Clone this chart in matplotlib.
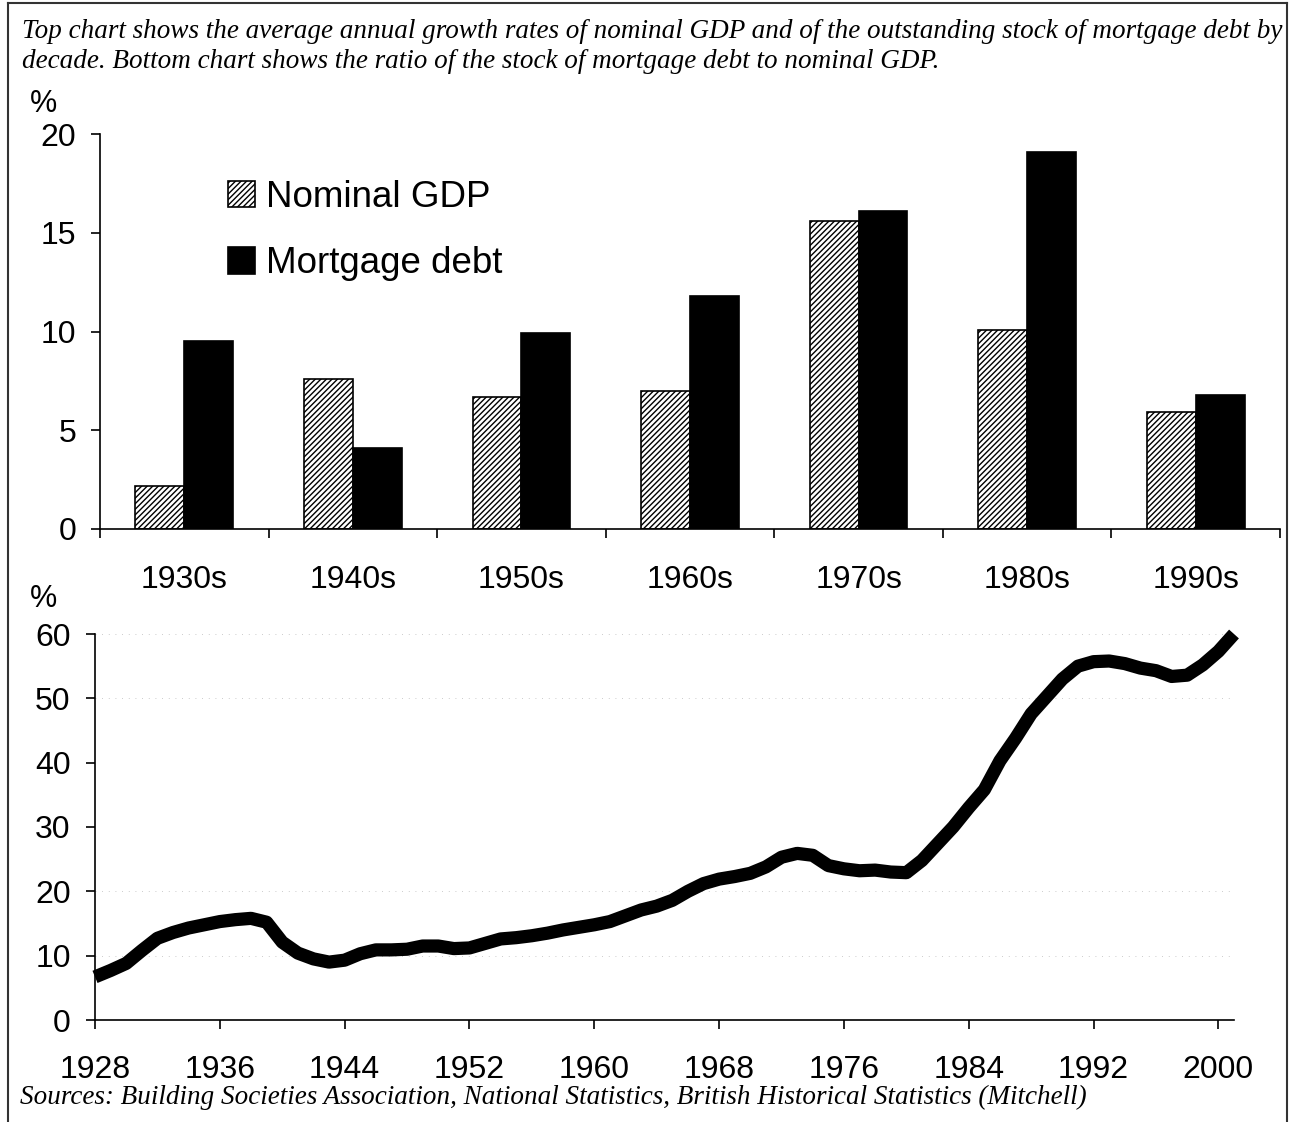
import numpy as np
import matplotlib
matplotlib.use("Agg")
import matplotlib.pyplot as plt
from matplotlib.lines import Line2D
from matplotlib.ticker import FixedLocator

# %%
decades = ["1930s", "1940s", "1950s", "1960s", "1970s", "1980s", "1990s"]
gdp_growth = [2.2, 7.6, 6.7, 7.0, 15.6, 10.1, 5.9]
mortgage_growth = [9.5, 4.1, 9.9, 11.8, 16.1, 19.1, 6.8]

years = list(range(1928, 2002))
debt_to_gdp = [6.7, 7.7, 8.8, 10.8, 12.7, 13.6, 14.3, 14.8, 15.3, 15.6,
               15.8, 15.2, 12.1, 10.4, 9.5, 9.0, 9.3, 10.3, 10.9, 10.9,
               11.0, 11.5, 11.5, 11.1, 11.2, 11.9, 12.6, 12.8, 13.1, 13.5,
               14.0, 14.4, 14.8, 15.3, 16.2, 17.1, 17.7, 18.6, 20.0, 21.2,
               21.9, 22.3, 22.8, 23.8, 25.3, 25.9, 25.6, 24.0, 23.5, 23.2,
               23.3, 23.0, 22.9, 24.8, 27.4, 30.0, 33.0, 35.8, 40.3, 43.8,
               47.6, 50.3, 53.0, 55.0, 55.7, 55.8, 55.4, 54.7, 54.3, 53.4,
               53.6, 55.2, 57.3, 60.0]
year_ticks = list(range(1928, 2001, 8))

title_txt = ("Top chart shows the average annual growth rates of nominal GDP and of the outstanding stock of mortgage debt by\n"
             "decade. Bottom chart shows the ratio of the stock of mortgage debt to nominal GDP.")
source_txt = "Sources: Building Societies Association, National Statistics, British Historical Statistics (Mitchell)"

# %%
plt.rcParams['font.family'] = ['Liberation Sans', 'DejaVu Sans']
plt.rcParams['hatch.linewidth'] = 1.0
W, H = 1292, 1122
fig = plt.figure(figsize=[W / 100, H / 100], dpi=100)

serif = dict(family=['Liberation Serif', 'DejaVu Serif'], style='italic', fontsize=19.5)
fig.text(22 / W, 1 - 19 / H, title_txt, ha='left', va='top', linespacing=1.25, **serif)
fig.text(20 / W, 1 - 1104 / H, source_txt, ha='left', va='baseline', **serif)

# page frame
for xs, ys in [([8, 8], [3, H]), ([8, 1287], [3, 3]), ([1287, 1287], [3, H])]:
    fig.add_artist(Line2D([x / W for x in xs], [1 - y / H for y in ys],
                          color='#333333', lw=1.5, transform=fig.transFigure))

# %% top chart
ax1 = fig.add_axes([100 / W, 1 - 529 / H, (1280 - 100) / W, (529 - 134) / H])
x = np.arange(len(decades))
bw = 0.29
ax1.bar(x - bw / 2, gdp_growth, width=bw, color='white', edgecolor='black',
        hatch='//////', linewidth=1.2, label='Nominal GDP')
ax1.bar(x + bw / 2, mortgage_growth, width=bw, color='black', edgecolor='black',
        linewidth=1.2, label='Mortgage debt')
ax1.set_xlim(-0.5, len(decades) - 0.5)
ax1.set_ylim(0, 20)
ax1.set_yticks([0, 5, 10, 15, 20])
ax1.set_xticks(x)
ax1.set_xticklabels(decades)
ax1.xaxis.set_minor_locator(FixedLocator(np.arange(-0.5, len(decades), 1.0)))
ax1.tick_params(axis='x', which='major', length=0, pad=26, labelsize=23)
ax1.tick_params(axis='x', which='minor', length=6.5, width=1.2, direction='out')
ax1.tick_params(axis='y', length=6.5, width=1.2, direction='out', pad=10.5, labelsize=23)
for s in ['top', 'right']:
    ax1.spines[s].set_visible(False)
ax1.spines['left'].set_linewidth(1.2)
ax1.spines['bottom'].set_linewidth(1.2)
fig.text(30 / W, 1 - 112 / H, '%', fontsize=22, ha='left', va='baseline')

ax1.legend(loc='upper left', bbox_to_anchor=(228 / W, 1 - 180 / H),
           bbox_transform=fig.transFigure, frameon=False, fontsize=26.5,
           handlelength=0.72, handleheight=0.72, handletextpad=0.3,
           labelspacing=0.85, borderpad=0, borderaxespad=0)

# %% bottom chart
ax2 = fig.add_axes([95 / W, 1 - 1020 / H, (1234 - 95) / W, (1020 - 634) / H])
for gy in [10, 20, 50, 60]:
    ax2.axhline(gy, color='#bbbbbb', lw=0.6, ls=(0, (1, 7)), zorder=0)
ax2.plot(years, debt_to_gdp, color='black', lw=9.5, solid_capstyle='butt',
         solid_joinstyle='round', clip_on=False)
ax2.set_xlim(1928, 2001)
ax2.set_ylim(0, 60)
ax2.set_yticks(range(0, 61, 10))
ax2.set_xticks(year_ticks)
ax2.tick_params(axis='x', length=6.5, width=1.2, direction='out', pad=19, labelsize=23)
ax2.tick_params(axis='y', length=6.5, width=1.2, direction='out', pad=11, labelsize=23)
for s in ['top', 'right']:
    ax2.spines[s].set_visible(False)
ax2.spines['left'].set_linewidth(1.2)
ax2.spines['bottom'].set_linewidth(1.2)
fig.text(30 / W, 1 - 607 / H, '%', fontsize=22, ha='left', va='baseline')

plt.savefig('out.png', dpi=100)
